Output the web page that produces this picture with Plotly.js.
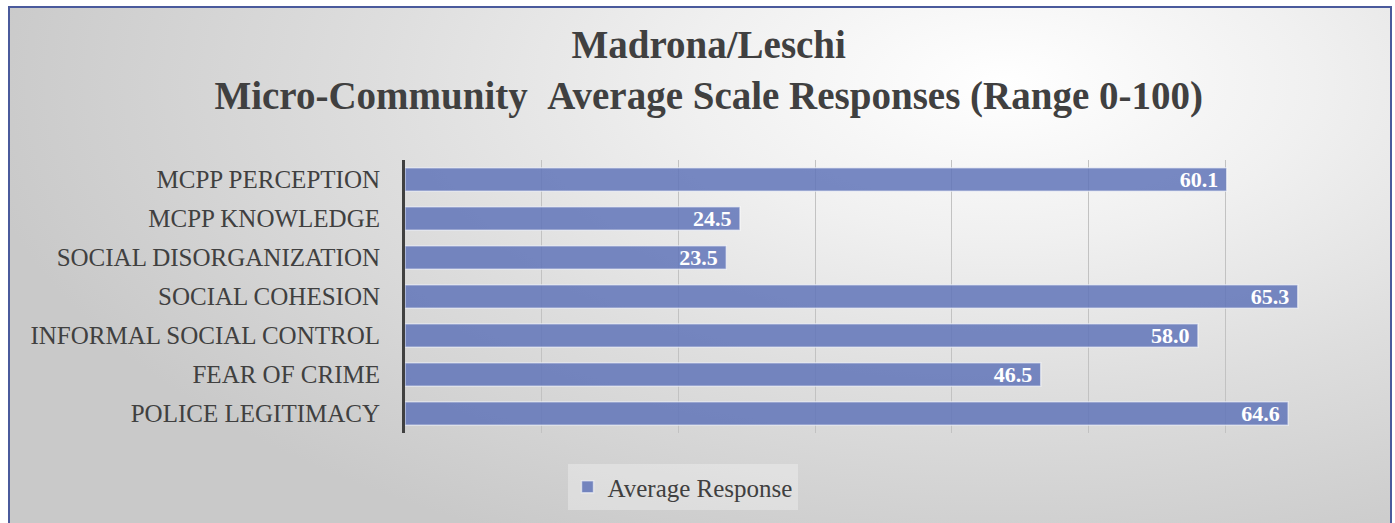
<!DOCTYPE html>
<html>
<head>
<meta charset="utf-8">
<script src="https://cdn.plot.ly/plotly-3.0.1.min.js"></script>
<style>
  html, body { margin:0; padding:0; background:#ffffff; width:1395px; height:523px; overflow:hidden; }
  #frame {
    position:absolute; left:8px; top:6px; width:1380px; height:540px;
    border:2px solid #4a5a9c;
    background: radial-gradient(ellipse 75% 95% at 72% 14%, #ffffff 0%, #f0f0f0 30%, #dedede 60%, #c9c9c9 100%);
  }
  #chart { position:absolute; left:0; top:0; width:1395px; height:523px; }
</style>
</head>
<body>
<div id="frame"></div>
<div id="chart"></div>
<script>
const categories = [
  "MCPP PERCEPTION",
  "MCPP KNOWLEDGE",
  "SOCIAL DISORGANIZATION",
  "SOCIAL COHESION",
  "INFORMAL SOCIAL CONTROL",
  "FEAR OF CRIME",
  "POLICE LEGITIMACY"
];
const averageResponse = [60.1, 24.5, 23.5, 65.3, 58.0, 46.5, 64.6];
const seriesName = "Average Response";
const titleLines = ["Madrona/Leschi", "Micro-Community&nbsp;&nbsp;Average Scale Responses (Range 0-100)"];

const serif = "'Liberation Serif', 'DejaVu Serif', serif";

const trace = {
  type: "bar",
  orientation: "h",
  name: seriesName,
  x: averageResponse,
  y: categories,
  width: 0.6,
  marker: { color: "rgba(96,116,184,0.85)", line: { color: "rgba(255,255,255,0.55)", width: 1.5 } },
  texttemplate: "<b>%{x:.1f}</b>&nbsp;",
  textposition: "inside",
  insidetextanchor: "end",
  constraintext: "none",
  textfont: { family: serif, size: 22, color: "#ffffff" },
  cliponaxis: false,
  hoverinfo: "skip",
  showlegend: true
};

const layout = {
  width: 1395, height: 523,
  paper_bgcolor: "rgba(0,0,0,0)",
  plot_bgcolor: "rgba(0,0,0,0)",
  margin: { l: 405, r: 33, t: 160, b: 90 },
  title: {
    text: "<b>" + titleLines.join("<br>") + "</b>",
    font: { family: serif, size: 39, color: "#404040" },
    x: 0.508, xanchor: "center",
    y: 0.889, yanchor: "middle"
  },
  xaxis: {
    range: [0, 70], dtick: 10, tick0: 0,
    showticklabels: false, showgrid: true, gridcolor: "#c2c2c2", gridwidth: 1,
    zeroline: false, showline: false, fixedrange: true
  },
  yaxis: {
    autorange: "reversed",
    type: "category",
    showline: true, linecolor: "#404040", linewidth: 3,
    showgrid: false, zeroline: false,
    ticks: "", ticklabelstandoff: 17,
    tickfont: { family: serif, size: 25, color: "#404040" },
    fixedrange: true
  },
  showlegend: true,
  legend: {
    orientation: "h",
    x: 0.29, xanchor: "center",
    y: -0.198, yanchor: "middle",
    bgcolor: "rgba(255,255,255,0.3)",
    font: { family: serif, size: 25, color: "#404040" },
    itemwidth: 30
  }
};

Plotly.newPlot("chart", [trace], layout, { displayModeBar: false, staticPlot: true });
</script>
</body>
</html>
